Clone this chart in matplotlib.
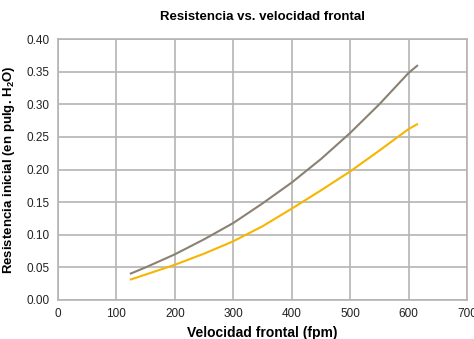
import matplotlib
matplotlib.use("Agg")
import matplotlib.pyplot as plt

plt.rcParams['font.family'] = ['Liberation Sans', 'DejaVu Sans']
plt.rcParams['mathtext.fontset'] = 'custom'
plt.rcParams['mathtext.rm'] = 'Liberation Sans:bold'
plt.rcParams['mathtext.default'] = 'rm'

# data
velocidad = [123, 150, 200, 250, 300, 350, 400, 450, 500, 550, 600, 616]
resist_gris = [0.040, 0.050, 0.070, 0.093, 0.118, 0.148, 0.180, 0.216, 0.256, 0.300, 0.348, 0.360]
resist_oro = [0.031, 0.039, 0.054, 0.071, 0.090, 0.113, 0.140, 0.168, 0.197, 0.229, 0.262, 0.270]

x_ticks = [0, 100, 200, 300, 400, 500, 600, 700]
y_ticks = [0.00, 0.05, 0.10, 0.15, 0.20, 0.25, 0.30, 0.35, 0.40]

fig = plt.figure(figsize=(4.74, 3.39), dpi=100)
ax = fig.add_axes([58 / 474, 39 / 339, 409 / 474, 261 / 339])

ax.plot(velocidad, resist_gris, color='#8b8173', lw=1.5, solid_capstyle='butt')
ax.plot(velocidad, resist_oro, color='#f7b500', lw=1.5, solid_capstyle='butt')

ax.set_xlim(0, 700)
ax.set_ylim(0, 0.40)
ax.set_xticks(x_ticks)
ax.set_yticks(y_ticks)
ax.set_yticklabels([f'{v:.2f}' for v in y_ticks])
ax.tick_params(length=0, labelsize=8.5, colors='#222222', pad=6)
ax.grid(color='#b4b4b4', lw=1.2)
ax.set_axisbelow(True)
for s in ax.spines.values():
    s.set_color('#b4b4b4')
    s.set_linewidth(1.2)

ax.set_title('Resistencia vs. velocidad frontal', fontsize=9.5, fontweight='bold', pad=14)
ax.set_xlabel('Velocidad frontal (fpm)', fontsize=10, fontweight='bold', labelpad=4)
ax.set_ylabel('Resistencia inicial (en pulg. H$_2$O)', fontsize=9.5, fontweight='bold', labelpad=7)

fig.savefig('out.png', dpi=100)
